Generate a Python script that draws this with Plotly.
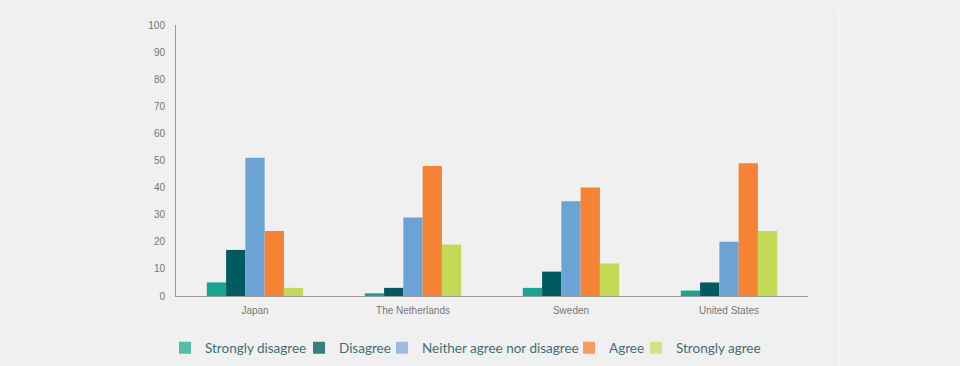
import plotly.graph_objects as go

categories = ["Japan", "The Netherlands", "Sweden", "United States"]
series_names = ["Strongly disagree", "Disagree", "Neither agree nor disagree", "Agree", "Strongly agree"]
strongly_disagree = [5, 1, 3, 2]
disagree = [17, 3, 9, 5]
neither = [51, 29, 35, 20]
agree = [24, 48, 40, 49]
strongly_agree = [3, 19, 12, 24]
y_ticks = [0, 10, 20, 30, 40, 50, 60, 70, 80, 90, 100]

series_values = [strongly_disagree, disagree, neither, agree, strongly_agree]
bar_colors = ["#17a58f", "#005a60", "#6ba3d4", "#f68233", "#c3da56"]
legend_colors = ["#4fbfa8", "#3b7e80", "#9bbde2", "#f79c61", "#d0e386"]
# approximate pixel x where each legend label text starts
legend_text_x = [205, 339, 422, 609, 676]

fig = go.Figure()
for name, vals, col in zip(series_names, series_values, bar_colors):
    fig.add_trace(go.Bar(x=categories, y=vals, name=name, marker_color=col,
                         marker_line_width=0, showlegend=False))

legend_layouts = {}
for i, (name, col, tx) in enumerate(zip(series_names, legend_colors, legend_text_x)):
    key = "legend" if i == 0 else f"legend{i+1}"
    fig.add_trace(go.Bar(x=[categories[0]], y=[None], name=name, marker_color=col,
                         marker_line_width=0, showlegend=True, xaxis="x2", legend=key))
    legend_layouts[key] = dict(
        orientation="h", xref="container", x=(tx - 40) / 960, xanchor="left",
        yref="container", y=1 - 348 / 366, yanchor="middle",
        font=dict(family="Lato, Open Sans, sans-serif", size=13.5, color="#3f6f78"),
        itemwidth=30, bgcolor="rgba(0,0,0,0)", borderwidth=0)

fig.update_layout(
    width=960, height=366,
    margin=dict(l=176, r=152, t=25, b=70),
    paper_bgcolor="#f0f0f0", plot_bgcolor="#f0f0f0",
    barmode="group", bargap=0.39, bargroupgap=0,
    font=dict(family="Liberation Sans, Arial, sans-serif", color="#777777", size=10),
    xaxis=dict(showline=True, linecolor="#9a9a9a", linewidth=1, ticks="",
               showgrid=False, ticklabelstandoff=5, tickfont=dict(size=10, color="#777777")),
    xaxis2=dict(overlaying="x", visible=False),
    yaxis=dict(range=[0, 100], tickvals=y_ticks, showline=True, linecolor="#9a9a9a",
               linewidth=1, showgrid=False, zeroline=False, ticks="", ticklabelstandoff=8,
               tickfont=dict(size=10, color="#777777")),
    shapes=[dict(type="line", xref="paper", yref="paper", x0=1.049, x1=1.049,
                 y0=-0.26, y1=1.06, line=dict(color="#f7f7f7", width=1))],
    **legend_layouts,
)

fig.write_html("out.html", config={"displayModeBar": False},
               post_script="document.body.style.margin='0';document.body.style.background='#f0f0f0';")
